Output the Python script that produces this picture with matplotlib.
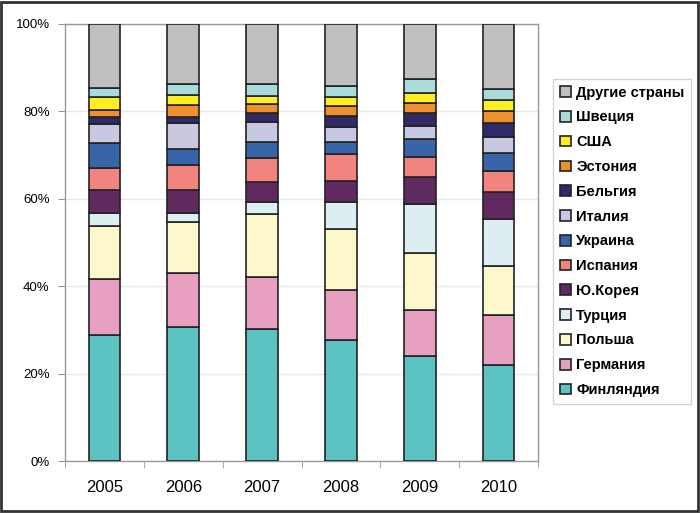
import matplotlib.pyplot as plt
import numpy as np
from matplotlib.patches import Rectangle

plt.rcParams['font.family'] = ['Liberation Sans', 'DejaVu Sans']

years = ['2005', '2006', '2007', '2008', '2009', '2010']

# shares in %, bottom to top
finland = [28.8, 30.6, 30.1, 27.6, 24.0, 22.0]
germany = [12.8, 12.5, 11.9, 11.5, 10.6, 11.3]
poland = [12.2, 11.5, 14.6, 14.0, 12.9, 11.3]
turkey = [3.0, 2.2, 2.6, 6.2, 11.3, 10.7]
korea = [5.1, 5.1, 4.6, 4.8, 6.3, 6.3]
spain = [5.1, 5.8, 5.5, 6.2, 4.5, 4.7]
ukraine = [5.8, 3.6, 3.8, 2.8, 4.0, 4.1]
italy = [4.3, 6.1, 4.4, 3.4, 3.1, 3.8]
belgium = [1.7, 1.4, 2.1, 2.5, 2.9, 3.1]
estonia = [1.5, 2.6, 2.2, 2.3, 2.3, 2.7]
usa = [3.1, 2.4, 1.7, 2.1, 2.4, 2.5]
sweden = [2.0, 2.5, 2.8, 2.4, 3.0, 2.6]
other = [14.6, 13.7, 13.7, 14.2, 12.7, 14.9]

series = [
    ('Финляндия', finland, '#5cc2c2'),
    ('Германия', germany, '#e8a0c0'),
    ('Польша', poland, '#fcf8cc'),
    ('Турция', turkey, '#dceef2'),
    ('Ю.Корея', korea, '#602a60'),
    ('Испания', spain, '#f28480'),
    ('Украина', ukraine, '#3864a8'),
    ('Италия', italy, '#c8c8e0'),
    ('Бельгия', belgium, '#302a68'),
    ('Эстония', estonia, '#ee9030'),
    ('США', usa, '#ffee22'),
    ('Швеция', sweden, '#a8dcdc'),
    ('Другие страны', other, '#c0c0c0'),
]

fig = plt.figure(figsize=(7, 5.13), dpi=100)
ax = fig.add_axes([65 / 700, 52 / 513, 473 / 700, 437 / 513])

x = np.arange(len(years))
totals = np.sum([s[1] for s in series], axis=0)
bottom = np.zeros(len(years))
handles = []
for name, vals, col in series:
    v = np.array(vals) / totals * 100
    b = ax.bar(x, v, 0.4, bottom=bottom, color=col, edgecolor='#222222',
               linewidth=1.2, label=name, zorder=3)
    handles.append(b)
    bottom += v

ax.set_xlim(-0.5, len(years) - 0.5)
ax.set_ylim(0, 100)
ax.set_yticks(np.arange(0, 101, 20))
ax.set_yticklabels(['%d%%' % t for t in range(0, 101, 20)], fontsize=9.5)
ax.set_xticks(x)
ax.set_xticklabels(years, fontsize=12)
ax.set_xticks(np.arange(-0.5, len(years)), minor=True)
ax.tick_params(axis='x', which='major', length=0, pad=14)
ax.tick_params(axis='x', which='minor', length=5, color='#999999', direction='out')
ax.tick_params(axis='y', length=5, color='#999999', direction='out', pad=6)
ax.grid(axis='y', color='#e8e8e8', linewidth=1, zorder=0)
for sp in ax.spines.values():
    sp.set_color('#999999')
    sp.set_linewidth(1)

leg = fig.legend(handles[::-1], [s[0] for s in series[::-1]],
                 loc='upper left', bbox_to_anchor=(553 / 700, 1 - 79 / 513),
                 prop={'weight': 'bold', 'size': 10.5}, frameon=True,
                 fancybox=False, edgecolor='#c8c8c8', handlelength=0.75,
                 handleheight=0.75, handletextpad=0.4, labelspacing=0.74,
                 borderpad=0.45, borderaxespad=0)
leg.get_frame().set_linewidth(1)

fig.patches.append(Rectangle((0.002, 0.003), 0.995, 0.994, transform=fig.transFigure,
                             fill=False, edgecolor='#333333', linewidth=2))

fig.savefig('out.png', dpi=100)
